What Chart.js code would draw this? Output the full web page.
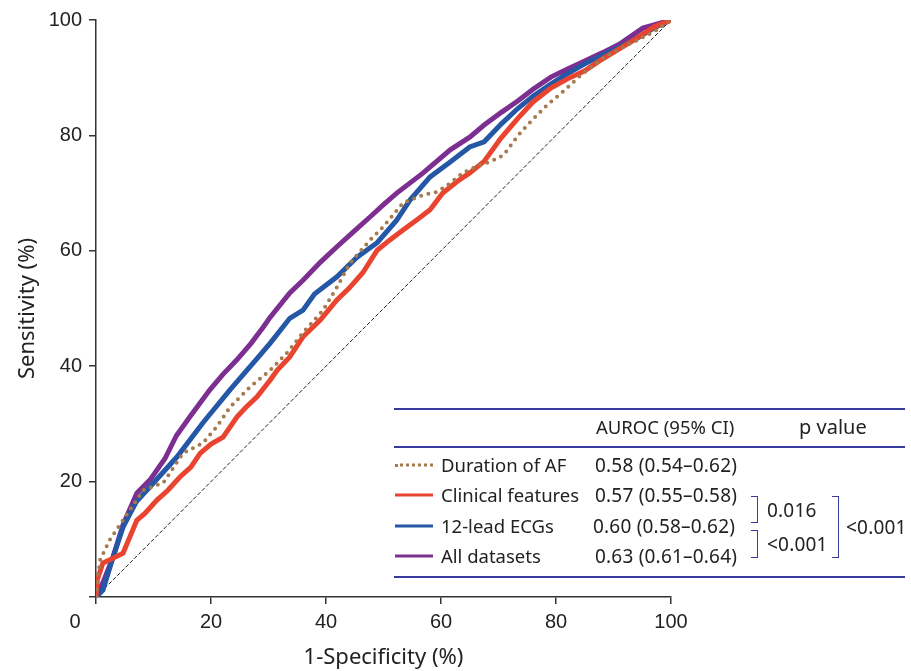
<!DOCTYPE html>
<html>
<head>
<meta charset="utf-8">
<script src="https://cdn.jsdelivr.net/npm/chart.js@4/dist/chart.umd.min.js"></script>
<style>
  body{margin:0;background:#fff;}
  #wrap{position:relative;width:911px;height:671px;font-family:"Noto Sans",sans-serif;color:#222;}
  #c{position:absolute;left:0;top:0;}
  .t{position:absolute;white-space:nowrap;line-height:1;transform:translateY(-50%);font-size:18.5px;}
  .v{font-size:19px;letter-spacing:0.2px;}
  .hr{position:absolute;left:394px;width:511px;height:1.5px;background:#3b3b9e;}
  .sw{position:absolute;left:395px;width:38px;height:0;transform:translateY(-50%);}
  .br{position:absolute;border:1.5px solid #3b3b9e;border-left:none;width:6px;}
</style>
</head>
<body>
<div id="wrap">
  <canvas id="c" width="911" height="671"></canvas>

  <!-- table legend -->
  <div class="hr" style="top:408px"></div>
  <div class="hr" style="top:446px"></div>
  <div class="hr" style="top:576px"></div>
  <div class="t" style="left:596px;top:427px">AUROC (95% CI)</div>
  <div class="t" style="left:799px;top:427px;font-size:20px">p value</div>

  <div class="sw" style="top:465px;border-top:3px dotted #a57a4c"></div>
  <div class="sw" style="top:495px;border-top:3px solid #e94430"></div>
  <div class="sw" style="top:526px;border-top:3px solid #2457a5"></div>
  <div class="sw" style="top:556px;border-top:3px solid #7d2f91"></div>

  <div class="t" style="left:441px;top:465px">Duration of AF</div>
  <div class="t" style="left:441px;top:495px">Clinical features</div>
  <div class="t" style="left:441px;top:526px">12-lead ECGs</div>
  <div class="t" style="left:441px;top:556px">All datasets</div>

  <div class="t v" style="left:595px;top:465px">0.58 (0.54–0.62)</div>
  <div class="t v" style="left:595px;top:495px">0.57 (0.55–0.58)</div>
  <div class="t v" style="left:593px;top:526px">0.60 (0.58–0.62)</div>
  <div class="t v" style="left:595px;top:556px">0.63 (0.61–0.64)</div>

  <div class="br" style="left:751px;top:496px;height:25px"></div>
  <div class="br" style="left:751px;top:530px;height:26px"></div>
  <div class="br" style="left:832px;top:496px;height:60px"></div>
  <div class="t v" style="left:767px;top:510px">0.016</div>
  <div class="t v" style="left:767px;top:544px">&lt;0.001</div>
  <div class="t v" style="left:846px;top:527px">&lt;0.001</div>
</div>

<script>
/* ------- DATA (% units) ------- */
const xTicks = [0, 20, 40, 60, 80, 100];

const afX  = [0,0.7,2.4,4.7,8.2,11.7,15.1,18.6,21,23.3,26.8,30.3,33.2,36,39.5,41.9,44.2,47.7,49.9,53.4,56.9,59.3,61.6,63.8,66.8,68.5,70.9,73.4,75.7,78.6,80.9,84.5,88.5,92.7,96.9,100];
const afY  = [0,6.4,9.9,13.3,18.5,19.8,24.9,26.7,29.5,32.9,36.4,39.3,42.3,45.8,49.7,53.7,57.9,61.9,64.1,68.3,69.7,70.2,71.7,73.5,74.9,75.4,76.6,80,82.5,85.4,87.3,90.6,93.6,95.8,97.9,100];

const clinX = [0,0.2,1.2,2.5,4.7,7.1,8.5,10.6,12.5,14.6,16.5,18.1,20,22.1,24.5,26,28,30.3,31.5,33.7,36,39,41.9,44,46.4,48.9,51,53.4,56,58.1,60.3,62.8,65,67.5,70.4,73.4,76,79.1,82,85,88,91,94,97,100];
const clinY = [0,2.9,5.9,6.5,7.6,13.3,14.5,16.8,18.5,20.8,22.5,24.9,26.5,27.7,31.2,32.8,34.7,37.6,39.3,41.6,45.1,48,51.5,53.5,56.2,60.1,61.8,63.6,65.5,67.1,70,72,73.5,75.5,79.5,83,85.8,88.2,89.8,91.2,93.2,95,96.8,98.8,100];

const ecgX = [0,1.2,3,4.7,7,9.4,14.1,18.6,23.3,26,28,30.3,33.7,36,38,41.9,45.4,48.9,52.3,54.6,58.1,61.6,65,67.5,70.5,73.4,76,79.1,82,85,88,91,94,97,100];
const ecgY = [0,1.2,7,12.1,16.5,19.1,24.3,30.2,35.9,39,41.3,44,48.3,49.7,52.5,55.5,58.9,61.4,65.3,68.8,72.8,75.4,78,78.9,82,84.7,86.8,88.9,90.7,92.4,93.9,95.3,96.8,98.6,100];

const allX = [0,1.2,3,4.7,7.1,9.4,12,14,16.3,19.8,22,24.5,27,29.1,30.3,33.7,36,39,41.9,45,47.7,50,52.3,56.9,61.6,65,67.5,70.5,73.4,76,79.1,82,85,88,91,95.1,100];
const allY = [0,2.5,7,12.5,18,20.3,24,28,31.2,35.9,38.5,41.1,44,46.8,48.5,52.7,54.9,58,60.7,63.5,65.9,68,70,73.5,77.5,79.7,81.8,84,86,88,90.1,91.5,92.9,94.3,95.8,98.6,100];

const refX = [0, 100];
const refY = [0, 100];

const pts = (xs, ys) => xs.map((x, i) => ({x: x, y: ys[i]}));

/* ------- origin "0" label, shared by both axes ------- */
const originLabel = {
  id: "originLabel",
  afterDraw(chart){
    const c = chart.ctx, xs = chart.scales.x, ys = chart.scales.y;
    c.save();
    c.font = "20px 'Liberation Sans', Arial, sans-serif";
    c.fillStyle = "#222";
    c.textAlign = "center";
    c.textBaseline = "middle";
    c.fillText("0", xs.getPixelForValue(0) - 21, ys.getPixelForValue(0) + 25);
    c.restore();
  }
};

const tickFont = {family: "'Liberation Sans', Arial, sans-serif", size: 20};
const titleFont = {family: "'Noto Sans', sans-serif", size: 22};

new Chart(document.getElementById("c"), {
  type: "line",
  data: {
    datasets: [
      {label: "Duration of AF", data: pts(afX, afY), borderColor: "#a57a4c", borderWidth: 4,
       borderDash: [0, 7.5], borderCapStyle: "round", pointRadius: 0, tension: 0},
      {label: "Clinical features", data: pts(clinX, clinY), borderColor: "#e94430", borderWidth: 5,
       pointRadius: 0, tension: 0},
      {label: "12-lead ECGs", data: pts(ecgX, ecgY), borderColor: "#2457a5", borderWidth: 5,
       pointRadius: 0, tension: 0},
      {label: "All datasets", data: pts(allX, allY), borderColor: "#7d2f91", borderWidth: 5,
       pointRadius: 0, tension: 0},
      {label: "Reference", data: pts(refX, refY), borderColor: "#222", borderWidth: 1,
       borderDash: [4, 2], pointRadius: 0, tension: 0}
    ]
  },
  options: {
    responsive: false,
    animation: false,
    layout: {padding: {top: 20, right: 240, bottom: 0, left: 0}},
    plugins: {legend: {display: false}, tooltip: {enabled: false}},
    scales: {
      x: {
        type: "linear", min: 0, max: 100,
        afterBuildTicks: s => { s.ticks = xTicks.map(v => ({value: v})); },
        afterFit: s => { s.height = 74; },
        ticks: {font: tickFont, color: "#222", padding: 6, maxRotation: 0,
                callback: v => v === 0 ? "" : v},
        grid: {drawOnChartArea: false, tickLength: 7, color: "#333", lineWidth: 1.5},
        border: {color: "#333", width: 1.5},
        title: {display: true, text: "1-Specificity (%)", font: titleFont, color: "#222",
                padding: {top: 0, bottom: 0}}
      },
      y: {
        min: 0, max: 100,
        afterBuildTicks: s => { s.ticks = xTicks.map(v => ({value: v})); },
        afterFit: s => { s.width = 96; },
        ticks: {font: tickFont, color: "#222", padding: 7,
                callback: v => v === 0 ? "" : v},
        grid: {drawOnChartArea: false, tickLength: 7, color: "#333", lineWidth: 1.5},
        border: {color: "#333", width: 1.5},
        title: {display: true, text: "Sensitivity (%)", font: titleFont, color: "#222",
                padding: {top: 15, bottom: 0}}
      }
    }
  },
  plugins: [originLabel]
});
</script>
</body>
</html>
